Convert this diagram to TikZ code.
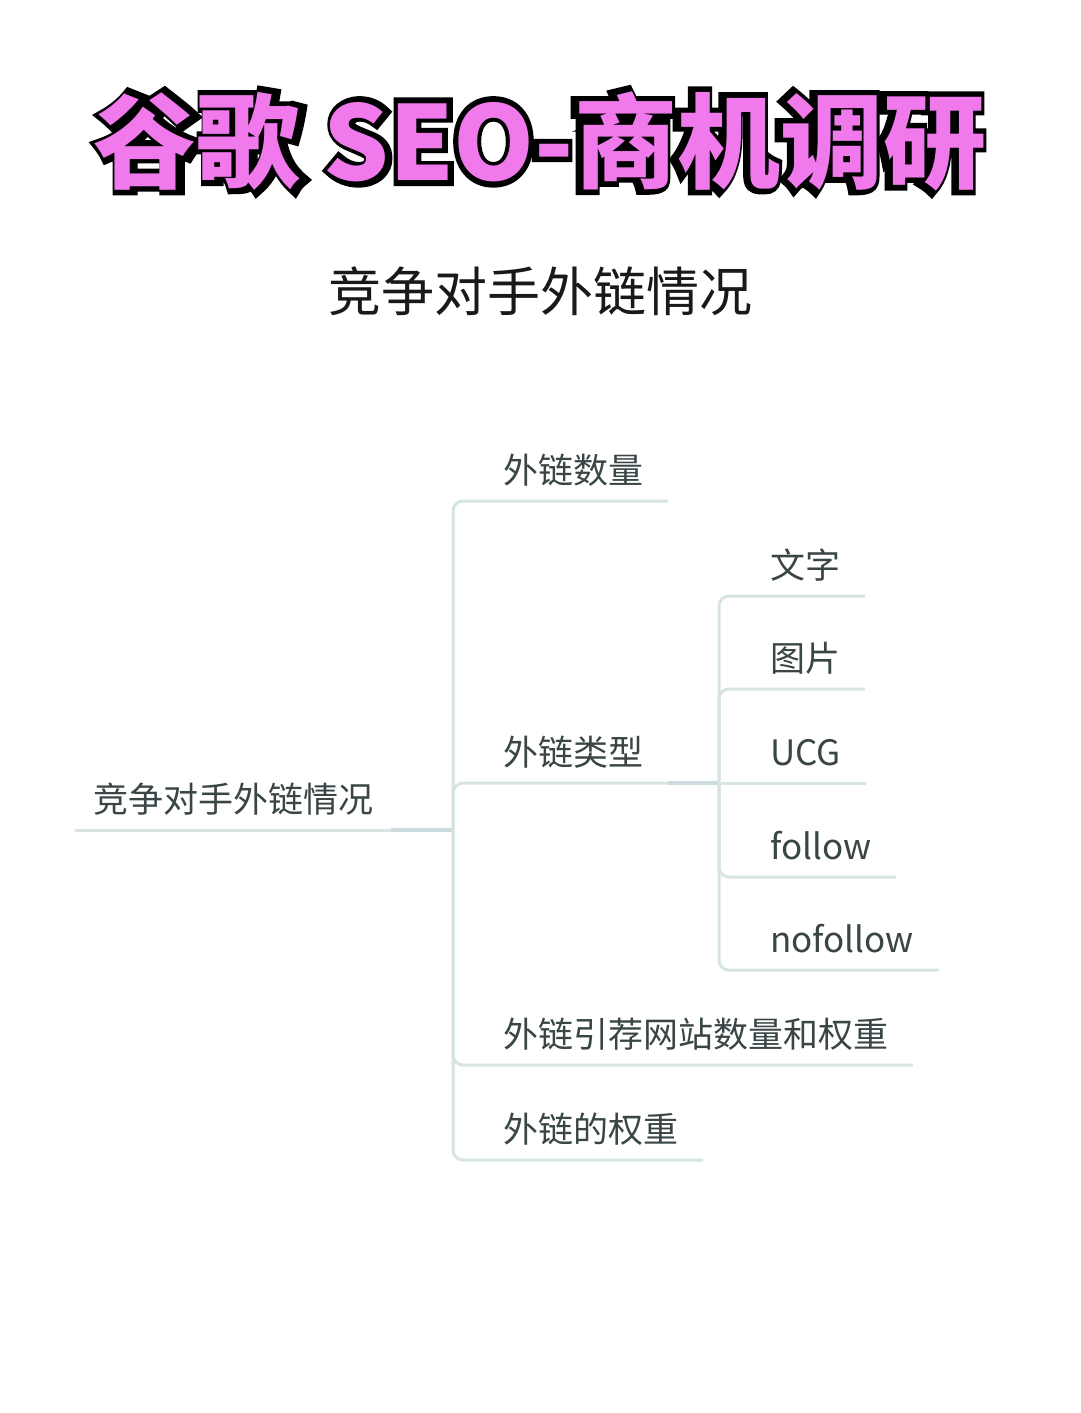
\documentclass[tikz,border=0pt]{standalone}
\usepackage{fontspec}
\setmainfont{Noto Sans CJK SC}
\newfontfamily\titleedge{Noto Sans CJK SC Bold}[FakeBold=12]
\usetikzlibrary{positioning}

\definecolor{titlepink}{HTML}{F07AEC}
\definecolor{linkline}{HTML}{D6E4E4}
\definecolor{jointline}{HTML}{CCDCDC}
\definecolor{topictext}{HTML}{3A4646}

\tikzset{
  titletext/.style={font=\fontsize{103}{103}\selectfont\bfseries, anchor=base, inner sep=0pt},
  subtitle/.style={font=\fontsize{53}{53}\selectfont, text=black!90, anchor=base, inner sep=0pt},
  topic/.style={font=\fontsize{35}{35}\selectfont, text=topictext, inner xsep=25pt, inner ysep=18pt, text depth=0pt, outer sep=0pt, anchor=south west},
  branch/.style={draw=linkline, line width=3pt, rounded corners=10pt},
  joint/.style={draw=jointline, line width=4pt},
}

\begin{document}
\begin{tikzpicture}[x=1pt,y=-1pt]
\useasboundingbox (0,0) rectangle (1080,1413);
\fill[white] (0,0) rectangle (1080,1413);

% title with black outline
\node[titletext, font=\fontsize{103}{103}\titleedge, text=black] (titleback) at (540,180) {谷歌 SEO-商机调研};
\node[titletext, text=titlepink] (title) at (540,180) {谷歌 SEO-商机调研};

\node[subtitle] (sub) at (540,311) {竞争对手外链情况};

% mind map
\node[topic, inner xsep=18pt] (root) at (75,830) {竞争对手外链情况};
\coordinate (hub) at (453,830);

\node[topic] (shuliang) at (478,501) {外链数量};
\node[topic] (leixing) at (478,783) {外链类型};
\node[topic] (yinjian) at (478,1065) {外链引荐网站数量和权重};
\node[topic] (quanzhong) at (478,1160) {外链的权重};

\coordinate (subhub) at (719,783);
\node[topic] (wenzi) at (745,596) {文字};
\node[topic] (tupian) at (745,689) {图片};
\node[topic] (ucg) at (745,783) {UCG};
\node[topic] (follow) at (745,877) {follow};
\node[topic] (nofollow) at (745,970) {nofollow};

\draw[branch] (root.south west) -- (root.south east);
\draw[joint] (root.south east) -- (hub);
\foreach \n in {shuliang,leixing,yinjian,quanzhong}
  \draw[branch] (hub) |- (\n.south east);

\draw[joint] (leixing.south east) -- (subhub);
\foreach \n in {wenzi,tupian,follow,nofollow}
  \draw[branch] (subhub) |- (\n.south east);
\draw[branch] (subhub) -- (ucg.south east);
\end{tikzpicture}
\end{document}
